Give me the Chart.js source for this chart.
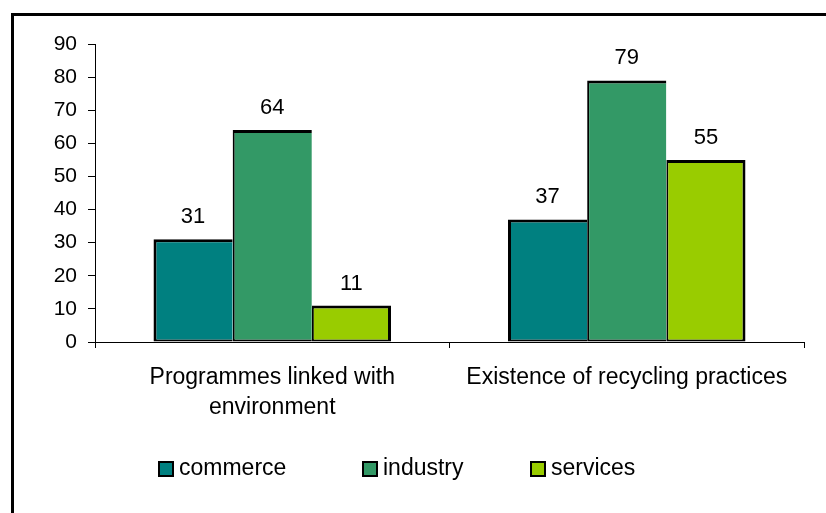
<!DOCTYPE html>
<html>
<head>
<meta charset="utf-8">
<script src="https://cdn.jsdelivr.net/npm/chart.js@4.4.1/dist/chart.umd.min.js"></script>
<style>
  html, body { margin: 0; padding: 0; background: #fff; overflow: hidden; }
  #wrap { position: relative; width: 826px; height: 513px; overflow: hidden; }
  #frame { position: absolute; left: 11px; top: 13px; width: 900px; height: 600px; border: 3px solid #000; }
  #cv { position: absolute; left: 0; top: 0; }
</style>
</head>
<body>
<div id="wrap">
  <div id="frame"></div>
  <canvas id="cv" width="826" height="513"></canvas>
</div>
<script>
// Data untuk grafik
const categories = [['Programmes linked with', 'environment'], 'Existence of recycling practices'];
const commerce = [31, 37];
const industry = [64, 79];
const services = [11, 55];

const FONT = '"Liberation Sans", Arial, sans-serif';

// Angka di atas setiap batang
const valueLabels = {
    id: 'valueLabels',
    afterDatasetsDraw(chart) {
        const ctx = chart.ctx;
        ctx.save();
        ctx.font = '22px ' + FONT;
        ctx.fillStyle = '#000';
        ctx.textAlign = 'center';
        ctx.textBaseline = 'alphabetic';
        chart.data.datasets.forEach((ds, i) => {
            chart.getDatasetMeta(i).data.forEach((bar, j) => {
                ctx.fillText(String(ds.data[j]), bar.x, bar.y - 16);
            });
        });
        ctx.restore();
    }
};

// Legenda di bawah grafik
const bottomLegend = {
    id: 'bottomLegend',
    afterDraw(chart) {
        const ctx = chart.ctx;
        const starts = [158, 362, 530];
        const y = 461;
        ctx.save();
        ctx.font = '23px ' + FONT;
        ctx.textBaseline = 'middle';
        chart.data.datasets.forEach((ds, i) => {
            const x = starts[i];
            ctx.fillStyle = ds.backgroundColor;
            ctx.fillRect(x, y, 16, 16);
            ctx.lineWidth = 2;
            ctx.strokeStyle = '#000';
            ctx.strokeRect(x + 1, y + 1, 14, 14);
            ctx.fillStyle = '#000';
            ctx.fillText(ds.label, x + 21, y + 8);
        });
        ctx.restore();
    }
};

// batang yang berdampingan berbagi satu garis tepi
const barConfig = {
    type: 'bar',
    data: {
        labels: categories,
        datasets: [
            { label: 'commerce', data: commerce, backgroundColor: '#008080',
              borderWidth: { top: 3, left: 3, bottom: 2, right: 0 } },
            { label: 'industry', data: industry, backgroundColor: '#339966',
              borderWidth: { top: 3, left: 2, bottom: 2, right: 0 } },
            { label: 'services', data: services, backgroundColor: '#99CC00',
              borderWidth: { top: 3, left: 2, bottom: 2, right: 3 } }
        ]
    },
    options: {
        responsive: false,
        animation: false,
        layout: { padding: { top: 44, right: 22, left: 0, bottom: 0 } },
        datasets: {
            bar: {
                borderColor: '#000',
                borderSkipped: false,
                categoryPercentage: 0.67,
                barPercentage: 1
            }
        },
        plugins: {
            legend: { display: false },
            tooltip: { enabled: false }
        },
        scales: {
            x: {
                afterFit(scale) { scale.height = 171; },
                grid: {
                    offset: true,
                    drawOnChartArea: false,
                    drawTicks: true,
                    tickLength: 6,
                    color: '#000'
                },
                border: { display: true, color: '#000', width: 1 },
                ticks: {
                    color: '#000',
                    padding: 15,
                    maxRotation: 0,
                    font: { family: FONT, size: 23, lineHeight: 1.3 }
                }
            },
            y: {
                min: 0,
                max: 90,
                afterFit(scale) { scale.width = 95; },
                grid: {
                    drawOnChartArea: false,
                    drawTicks: true,
                    tickLength: 7,
                    color: '#000'
                },
                border: { display: true, color: '#000', width: 1 },
                ticks: {
                    stepSize: 10,
                    color: '#000',
                    padding: 11,
                    font: { family: FONT, size: 21 }
                }
            }
        }
    },
    plugins: [valueLabels, bottomLegend]
};

const barChart = new Chart(document.getElementById('cv'), barConfig);
</script>
</body>
</html>
